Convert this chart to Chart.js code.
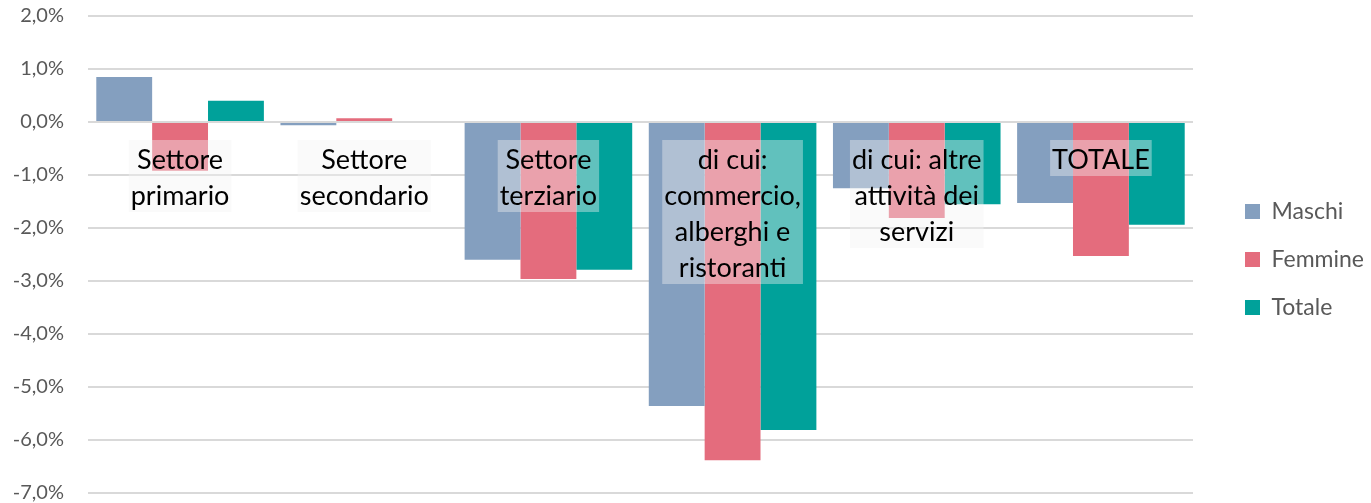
<!DOCTYPE html>
<html>
<head>
<meta charset="utf-8">
<script src="https://cdn.jsdelivr.net/npm/chart.js@4.4.1/dist/chart.umd.min.js"></script>
<style>
  html, body { margin: 0; padding: 0; background: #fff; }
  #wrap { width: 1371px; height: 503px; }
</style>
</head>
<body>
<div id="wrap"><canvas id="myChart"></canvas></div>
<script>
// Category labels (multi-line) and series, in percent
const categories = [
  ["Settore", "primario"],
  ["Settore", "secondario"],
  ["Settore", "terziario"],
  ["di cui:", "commercio,", "alberghi e", "ristoranti"],
  ["di cui: altre", "attività dei", "servizi"],
  ["TOTALE"],
];
const maschi = [0.85, -0.06, -2.6, -5.36, -1.25, -1.53];
const femmine = [-0.92, 0.07, -2.96, -6.38, -1.81, -2.53];
const totale = [0.4, -0.02, -2.79, -5.81, -1.55, -1.94];
const yTicks = [2, 1, 0, -1, -2, -3, -4, -5, -6, -7];

Chart.defaults.font.family = "Lato";

// draws the category names just under the zero line, over the bars
const categoryLabels = {
  id: "categoryLabels",
  afterDatasetsDraw(chart) {
    const { ctx, scales } = chart;
    const top = scales.y.getPixelForValue(0) + 18;
    const lh = 36;
    ctx.save();
    ctx.font = "27px Lato";
    ctx.textAlign = "center";
    ctx.textBaseline = "middle";
    categories.forEach((lines, i) => {
      const cx = scales.x.getPixelForValue(i);
      const w = Math.max(...lines.map((l) => ctx.measureText(l).width)) + 4;
      ctx.fillStyle = "rgba(242,242,242,0.4)";
      ctx.fillRect(cx - w / 2, top, w, lines.length * lh);
      ctx.fillStyle = "#000";
      lines.forEach((l, j) => ctx.fillText(l, cx, top + lh / 2 + j * lh + 2));
    });
    ctx.restore();
  },
};

const ctx = document.getElementById("myChart");

new Chart(ctx, {
  type: "bar",
  data: {
    labels: categories.map((c) => c.join(" ")),
    datasets: [
      { label: "Maschi", data: maschi, backgroundColor: "#849fbf" },
      { label: "Femmine", data: femmine, backgroundColor: "#e46c7d" },
      { label: "Totale", data: totale, backgroundColor: "#00a19a" },
    ],
  },
  options: {
    responsive: true,
    maintainAspectRatio: false,
    animation: false,
    devicePixelRatio: 1,
    layout: { padding: { top: 16, bottom: 10 } },
    datasets: {
      bar: { categoryPercentage: 0.91, barPercentage: 1, borderWidth: 0 },
    },
    plugins: {
      tooltip: { enabled: false },
      legend: {
        position: "right",
        maxWidth: 151,
        // empty title only nudges the items down a little
        title: { display: true, text: "", padding: 0, font: { size: 10, lineHeight: 1 } },
        labels: {
          boxWidth: 15,
          boxHeight: 15,
          padding: 25,
          color: "#595959",
          font: { size: 23 },
        },
      },
    },
    scales: {
      x: {
        display: false,
      },
      y: {
        min: -7,
        max: 2,
        afterBuildTicks: (s) => {
          s.ticks = yTicks.map((v) => ({ value: v }));
        },
        afterFit: (s) => {
          s.width = 88;
          s.paddingTop = 0;
          s.paddingBottom = 0;
        },
        border: { display: false },
        grid: { color: "#d9d9d9", lineWidth: 2, drawTicks: false },
        ticks: {
          padding: 24,
          color: "#595959",
          font: { size: 20, lineHeight: 1 },
          callback: (v) => v.toFixed(1).replace(".", ",") + "%",
        },
      },
      // empty spacer between plot and legend
      gap: {
        type: "linear",
        position: "right",
        display: true,
        grid: { display: false },
        border: { display: false },
        ticks: { display: false },
        afterFit: (s) => {
          s.width = 27;
        },
      },
    },
  },
  plugins: [categoryLabels],
});
</script>
</body>
</html>
